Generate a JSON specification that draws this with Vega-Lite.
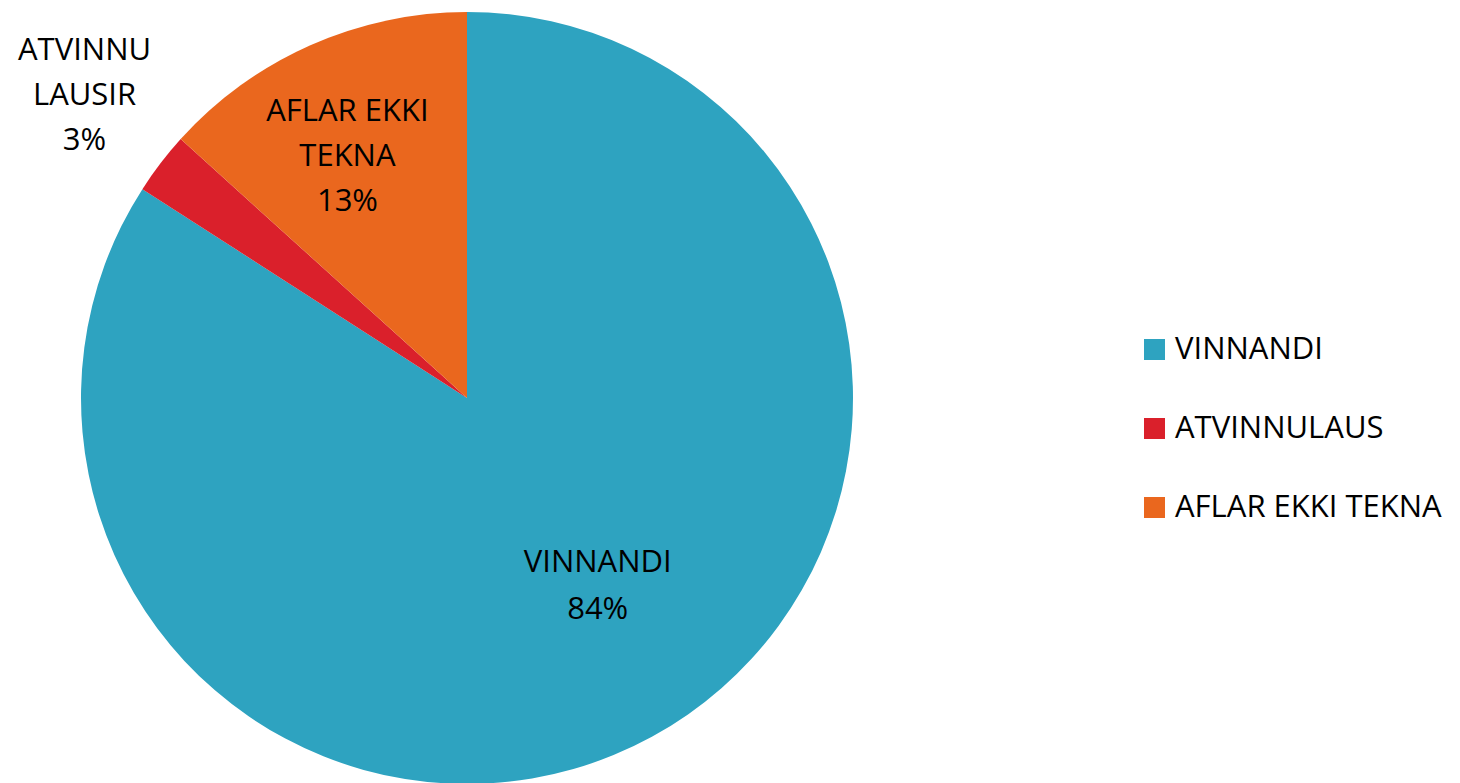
{
  "$schema": "https://vega.github.io/schema/vega-lite/v6.json",
  "width": 934,
  "height": 796,
  "autosize": "none",
  "padding": {"left": 0, "top": 0, "right": 526, "bottom": 0},
  "background": "white",
  "config": {"view": {"stroke": null}, "font": "Open Sans"},
  "data": {"values": [
    {"cat": "VINNANDI", "value": 84.1, "i": 1, "label": "VINNANDI\n84%"},
    {"cat": "ATVINNULAUS", "value": 2.6, "i": 2, "label": "ATVINNU\nLAUSIR\n3%"},
    {"cat": "AFLAR EKKI TEKNA", "value": 13.3, "i": 3, "label": "AFLAR EKKI\nTEKNA\n13%"}
  ]},
  "encoding": {
    "theta": {"field": "value", "type": "quantitative", "stack": true},
    "order": {"field": "i", "type": "quantitative"}
  },
  "layer": [
    {
      "mark": {"type": "arc", "radius": 386},
      "encoding": {
        "color": {
          "field": "cat", "type": "nominal",
          "scale": {"domain": ["VINNANDI", "ATVINNULAUS", "AFLAR EKKI TEKNA"], "range": ["#2EA3C0", "#DA202B", "#EA671E"]},
          "legend": {
            "title": null, "orient": "none", "legendX": 1139, "legendY": 334,
            "symbolType": "square", "symbolSize": 441, "symbolStrokeWidth": 0,
            "labelFontSize": 31, "labelFont": "Open Sans", "labelColor": "#000000",
            "rowPadding": 47, "labelOffset": 5, "labelLimit": 400
          }
        }
      }
    },
    {
      "mark": {"type": "text", "radius": 229, "fontSize": 31, "lineBreak": "\n", "lineHeight": 47, "color": "#000000", "dx": 21, "dy": -36},
      "encoding": {"text": {"condition": {"test": "datum.cat === 'VINNANDI'", "field": "label"}, "value": ""}}
    },
    {
      "mark": {"type": "text", "radius": 488, "fontSize": 31, "lineBreak": "\n", "lineHeight": 45, "color": "#000000", "dx": 5, "dy": -50},
      "encoding": {"text": {"condition": {"test": "datum.cat === 'ATVINNULAUS'", "field": "label"}, "value": ""}}
    },
    {
      "mark": {"type": "text", "radius": 270, "fontSize": 31, "lineBreak": "\n", "lineHeight": 45, "color": "#000000", "dx": -10, "dy": -39},
      "encoding": {"text": {"condition": {"test": "datum.cat === 'AFLAR EKKI TEKNA'", "field": "label"}, "value": ""}}
    }
  ]
}
